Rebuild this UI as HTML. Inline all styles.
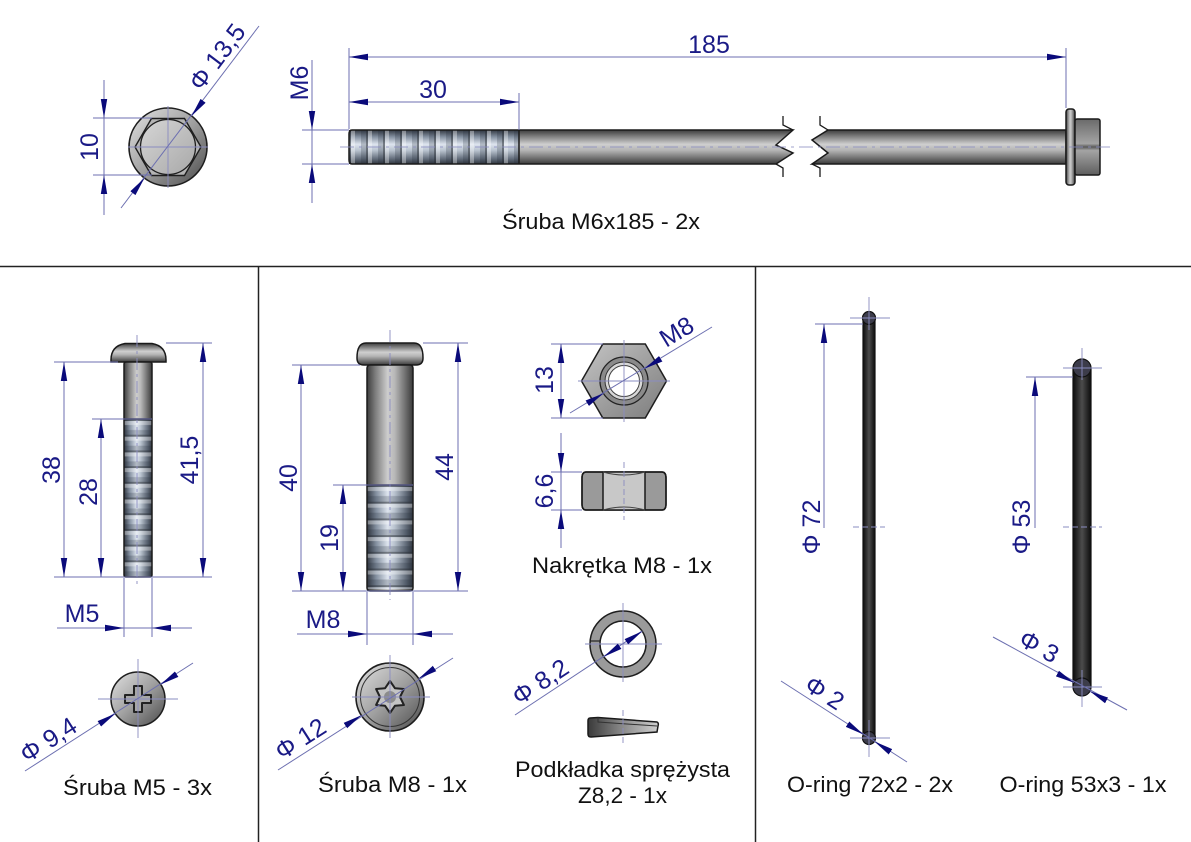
<!DOCTYPE html>
<html><head><meta charset="utf-8"><style>html,body{margin:0;padding:0;background:#fff}svg{display:block}</style></head>
<body>
<svg width="1191" height="842" viewBox="0 0 1191 842" xmlns="http://www.w3.org/2000/svg" font-family="'Liberation Sans', Arial, sans-serif">
<defs>
<marker id="ar" markerUnits="userSpaceOnUse" markerWidth="20" markerHeight="8" refX="19" refY="3.5" orient="auto"><path d="M0,0.3 L19,3.5 L0,6.7 Z" fill="#0a0a7a"/></marker>
<linearGradient id="gV" x1="0" y1="0" x2="0" y2="1"><stop offset="0" stop-color="#3c3c3c"/><stop offset=".18" stop-color="#7c7c7c"/><stop offset=".42" stop-color="#cfcfcf"/><stop offset=".6" stop-color="#b4b4b4"/><stop offset=".85" stop-color="#6a6a6a"/><stop offset="1" stop-color="#3a3a3a"/></linearGradient>
<linearGradient id="gH" x1="0" y1="0" x2="1" y2="0"><stop offset="0" stop-color="#3c3c3c"/><stop offset=".18" stop-color="#7c7c7c"/><stop offset=".45" stop-color="#cdcdcd"/><stop offset=".6" stop-color="#b8b8b8"/><stop offset=".85" stop-color="#6a6a6a"/><stop offset="1" stop-color="#3a3a3a"/></linearGradient>
<linearGradient id="gThV" x1="0" y1="0" x2="0" y2="1"><stop offset="0" stop-color="#323842"/><stop offset=".2" stop-color="#8490a0"/><stop offset=".42" stop-color="#dde4ee"/><stop offset=".6" stop-color="#b9c3cf"/><stop offset=".85" stop-color="#626c7a"/><stop offset="1" stop-color="#30363f"/></linearGradient>
<linearGradient id="gThH" x1="0" y1="0" x2="1" y2="0"><stop offset="0" stop-color="#323842"/><stop offset=".2" stop-color="#8490a0"/><stop offset=".45" stop-color="#dde4ee"/><stop offset=".6" stop-color="#b9c3cf"/><stop offset=".85" stop-color="#626c7a"/><stop offset="1" stop-color="#30363f"/></linearGradient>
<linearGradient id="gC" x1="0" y1="0" x2="1" y2="1"><stop offset="0" stop-color="#e2e2e2"/><stop offset=".5" stop-color="#a0a0a0"/><stop offset="1" stop-color="#4a4a4a"/></linearGradient>
<linearGradient id="gC2" x1="0" y1="0" x2="1" y2="1"><stop offset="0" stop-color="#d6d6d6"/><stop offset="1" stop-color="#a8a8a8"/></linearGradient>
<linearGradient id="gNut" x1="0" y1="0" x2="1" y2="1"><stop offset="0" stop-color="#c4c4c4"/><stop offset="1" stop-color="#7c7c7c"/></linearGradient>
<linearGradient id="gHex" x1="0" y1="0" x2="0" y2="1"><stop offset="0" stop-color="#6a6a6a"/><stop offset=".44" stop-color="#a4a4a4"/><stop offset=".5" stop-color="#5a5a5a"/><stop offset=".56" stop-color="#a4a4a4"/><stop offset="1" stop-color="#5e5e5e"/></linearGradient>
<linearGradient id="gRing" x1="0" y1="0" x2="1" y2="0"><stop offset="0" stop-color="#0c0c0c"/><stop offset=".5" stop-color="#4c4c4c"/><stop offset="1" stop-color="#0c0c0c"/></linearGradient>
<linearGradient id="gWs" x1="0" y1="0" x2="1" y2="0"><stop offset="0" stop-color="#3a3a3a"/><stop offset=".5" stop-color="#8c8c8c"/><stop offset="1" stop-color="#d0d0d0"/></linearGradient>
<pattern id="pTh1" patternUnits="userSpaceOnUse" x="349" y="0" width="17" height="200"><rect x="0" width="2" height="200" fill="#20262e" opacity=".55"/><rect x="2" width="4" height="200" fill="#fff" opacity=".35"/><rect x="12" width="5" height="200" fill="#1c2430" opacity=".22"/></pattern>
<pattern id="pTh2" patternUnits="userSpaceOnUse" x="0" y="419" width="300" height="15.7"><rect y="0" width="300" height="2" fill="#20262e" opacity=".55"/><rect y="2" width="300" height="4" fill="#fff" opacity=".35"/><rect y="11" width="300" height="4.7" fill="#1c2430" opacity=".22"/></pattern>
<pattern id="pTh3" patternUnits="userSpaceOnUse" x="0" y="485" width="500" height="16.7"><rect y="0" width="500" height="2" fill="#20262e" opacity=".55"/><rect y="2" width="500" height="4" fill="#fff" opacity=".35"/><rect y="11" width="500" height="5.7" fill="#1c2430" opacity=".22"/></pattern>
<style>
.d{stroke:#6c6fb0;stroke-width:1;fill:none}
.c{stroke:#8a8cc0;stroke-width:.9;fill:none}
.t{fill:#1a1a86;font-size:25px}
.l{fill:#111;font-size:22px}
.o{stroke:#1a1a1a;stroke-width:1.5}
</style>
</defs>
<rect width="1191" height="842" fill="#fff"/>
<path d="M0,266.5 H1191 M258.5,266 V842 M755.5,266 V842" stroke="#222" stroke-width="1.5" fill="none"/>

<!-- TOP LEFT head view -->
<circle cx="168" cy="147" r="39" fill="url(#gC)" stroke="#1e1e1e" stroke-width="1.6"/>
<polygon points="201,147 184.5,118.5 151.5,118.5 135,147 151.5,175.5 184.5,175.5" fill="#b4b4b4" stroke="#1e1e1e" stroke-width="1.4"/>
<circle cx="168" cy="147" r="27.5" fill="url(#gC2)" stroke="#1e1e1e" stroke-width="1.3"/>
<path class="c" d="M128,147 H208 M168,106 V188"/>
<path class="d" d="M93,118 H152 M93,175 H152 M104,80 V215"/>
<path class="d" d="M104,100 L104,118" marker-end="url(#ar)"/>
<path class="d" d="M104,193 L104,175" marker-end="url(#ar)"/>
<text class="t" transform="translate(98,147) rotate(-90)" text-anchor="middle">10</text>
<path class="d" d="M121,208 L259,26"/>
<path class="d" d="M202.5,101.6 L191.6,115.9" marker-end="url(#ar)"/>
<path class="d" d="M133.5,192.4 L144.4,178.1" marker-end="url(#ar)"/>
<text class="t" transform="translate(224,62) rotate(-53)" text-anchor="middle">Φ 13,5</text>

<!-- TOP bolt -->
<path d="M352,130 L793,130 L776,145 L793,153 L776,164 L352,164 Q349,164 349,160 L349,134 Q349,130 352,130 Z" fill="url(#gV)"/>
<rect x="349" y="130" width="170" height="34" fill="url(#gThV)"/>
<rect x="349" y="130" width="170" height="34" fill="url(#pTh1)"/>
<path d="M352,130 L793,130 L776,145 L793,153 L776,164 L352,164 Q349,164 349,160 L349,134 Q349,130 352,130 Z M519,130 V164" fill="none" class="o"/>
<path d="M828,130 L1066,130 L1066,164 L812,164 L828,153 L812,140 Z" fill="url(#gV)" class="o"/>
<path d="M783,116 V125 L793,130 M776,164 L783,168 V177 M820,116 V125 L828,130 M812,164 L820,168 V177" stroke="#1a1a1a" fill="none" stroke-width="1.3"/>
<rect x="1066" y="109" width="9" height="76" rx="3" fill="url(#gH)" class="o"/>
<rect x="1075" y="119" width="25" height="56" rx="2" fill="url(#gHex)" class="o"/>
<path class="c" d="M340,147 H1112" stroke-dasharray="14 5 3 5" opacity=".8"/>
<path class="d" d="M349,48 V129 M1066,48 V108 M519,93 V130 M349,57 H1066 M349,102 H519"/>
<path class="d" d="M367,57 L349,57" marker-end="url(#ar)"/>
<path class="d" d="M1048,57 L1066,57" marker-end="url(#ar)"/>
<path class="d" d="M367,102 L349,102" marker-end="url(#ar)"/>
<path class="d" d="M501,102 L519,102" marker-end="url(#ar)"/>
<text class="t" x="709" y="53" text-anchor="middle">185</text>
<text class="t" x="433" y="98" text-anchor="middle">30</text>
<path class="d" d="M302,130 H349 M302,164 H349 M312,60 V203"/>
<path class="d" d="M312,112 L312,130" marker-end="url(#ar)"/>
<path class="d" d="M312,182 L312,164" marker-end="url(#ar)"/>
<text class="t" transform="translate(308,83) rotate(-90)" text-anchor="middle">M6</text>
<text class="l" x="601" y="229" text-anchor="middle" textLength="198" lengthAdjust="spacingAndGlyphs">Śruba M6x185 - 2x</text>

<!-- M5 bolt -->
<path d="M111,360 Q111,346 125,343.5 L152,343.5 Q166,346 166,360 L166,362 L111,362 Z" fill="url(#gV)" class="o"/>
<rect x="124" y="362" width="28" height="215" rx="2" fill="url(#gH)"/>
<rect x="124" y="419" width="28" height="157" fill="url(#gThH)"/>
<rect x="124" y="419" width="28" height="157" fill="url(#pTh2)"/>
<rect x="124" y="362" width="28" height="215" rx="2" fill="none" class="o"/>
<path d="M124,419 H152" class="o"/>
<path class="c" d="M137,335 V585" stroke-dasharray="12 4 3 4"/>
<path class="d" d="M54,362 H118 M92,419 H152 M166,343 H212 M54,577 H212 M64,362 V577 M101,419 V577 M203,343 V577"/>
<path class="d" d="M64,380 L64,362" marker-end="url(#ar)"/>
<path class="d" d="M64,559 L64,577" marker-end="url(#ar)"/>
<path class="d" d="M101,437 L101,419" marker-end="url(#ar)"/>
<path class="d" d="M101,559 L101,577" marker-end="url(#ar)"/>
<path class="d" d="M203,361 L203,343" marker-end="url(#ar)"/>
<path class="d" d="M203,559 L203,577" marker-end="url(#ar)"/>
<text class="t" transform="translate(60,470) rotate(-90)" text-anchor="middle">38</text>
<text class="t" transform="translate(97,492) rotate(-90)" text-anchor="middle">28</text>
<text class="t" transform="translate(198,460) rotate(-90)" text-anchor="middle">41,5</text>
<path class="d" d="M124,578 V637 M152,578 V637 M57,628 H192"/>
<path class="d" d="M106,628 L124,628" marker-end="url(#ar)"/>
<path class="d" d="M170,628 L152,628" marker-end="url(#ar)"/>
<text class="t" x="82" y="622" text-anchor="middle">M5</text>
<!-- M5 head view -->
<circle cx="138" cy="699" r="27" fill="url(#gC)" stroke="#1e1e1e" stroke-width="1.5"/>
<path d="M134,686 h8 v9 h9 v8 h-9 v9 h-8 v-9 h-9 v-8 h9 z" fill="#a6a6a6" stroke="#222" stroke-width="2" stroke-linejoin="round"/>
<path class="c" d="M98,699 H178 M138,659 V738"/>
<path class="d" d="M25,771 L193,663"/>
<path class="d" d="M175.8,674.7 L160.7,684.4" marker-end="url(#ar)"/>
<path class="d" d="M100.2,723.3 L115.3,713.6" marker-end="url(#ar)"/>
<text class="t" transform="translate(53,747) rotate(-32.7)" text-anchor="middle">Φ 9,4</text>
<text class="l" x="137.5" y="795" text-anchor="middle" textLength="149" lengthAdjust="spacingAndGlyphs">Śruba M5 - 3x</text>

<!-- M8 bolt -->
<path d="M357,358 Q357,343 366,343 L414,343 Q423,343 423,358 Q423,365 416,365 L364,365 Q357,365 357,358 Z" fill="url(#gV)" class="o"/>
<rect x="367" y="365" width="46" height="226" rx="3" fill="url(#gH)"/>
<rect x="367" y="485" width="46" height="104" fill="url(#gThH)"/>
<rect x="367" y="485" width="46" height="104" fill="url(#pTh3)"/>
<rect x="367" y="365" width="46" height="226" rx="3" fill="none" class="o"/>
<path d="M367,485 H413" class="o"/>
<path class="c" d="M390,330 V600" stroke-dasharray="12 4 3 4"/>
<path class="d" d="M292,365 H360 M333,485 H413 M423,343 H468 M292,591 H468 M301,365 V591 M343,485 V591 M458,343 V591"/>
<path class="d" d="M301,383 L301,365" marker-end="url(#ar)"/>
<path class="d" d="M301,573 L301,591" marker-end="url(#ar)"/>
<path class="d" d="M343,503 L343,485" marker-end="url(#ar)"/>
<path class="d" d="M343,573 L343,591" marker-end="url(#ar)"/>
<path class="d" d="M458,361 L458,343" marker-end="url(#ar)"/>
<path class="d" d="M458,573 L458,591" marker-end="url(#ar)"/>
<text class="t" transform="translate(297,478) rotate(-90)" text-anchor="middle">40</text>
<text class="t" transform="translate(338,538) rotate(-90)" text-anchor="middle">19</text>
<text class="t" transform="translate(453,467) rotate(-90)" text-anchor="middle">44</text>
<path class="d" d="M367,592 V645 M413,592 V645 M297,634 H453"/>
<path class="d" d="M349,634 L367,634" marker-end="url(#ar)"/>
<path class="d" d="M431,634 L413,634" marker-end="url(#ar)"/>
<text class="t" x="323" y="628" text-anchor="middle">M8</text>
<!-- M8 head view -->
<circle cx="390" cy="697" r="34" fill="url(#gC)" stroke="#1e1e1e" stroke-width="1.6"/>
<circle cx="390" cy="697" r="29.5" fill="none" stroke="#333" stroke-width="1"/>
<polygon points="390,681 395,688.3 403.9,689 400,697 403.9,705 395,705.7 390,713 385,705.7 376.1,705 380,697 376.1,689 385,688.3" fill="#c4c4c4" stroke="#222" stroke-width="2" stroke-linejoin="round"/>
<circle cx="390" cy="697" r="6" fill="#8c8c8c"/>
<path class="c" d="M352,697 H430 M390,655 V738"/>
<path class="d" d="M278,770 L453,658"/>
<path class="d" d="M433.8,669 L418.6,678.7" marker-end="url(#ar)"/>
<path class="d" d="M346.2,725 L361.4,715.3" marker-end="url(#ar)"/>
<text class="t" transform="translate(305,746) rotate(-32.6)" text-anchor="middle">Φ 12</text>
<text class="l" x="392.5" y="792" text-anchor="middle" textLength="149" lengthAdjust="spacingAndGlyphs">Śruba M8 - 1x</text>

<!-- Nut top view -->
<polygon points="666.5,381 645.3,344 602.8,344 581.5,381 602.8,418 645.3,418" fill="url(#gNut)" stroke="#1e1e1e" stroke-width="1.5"/>
<circle cx="624" cy="381" r="24" fill="#8a8a8a" stroke="#222" stroke-width="1.3"/>
<circle cx="624" cy="381" r="19" fill="#d8d8d8" stroke="#333" stroke-width="1"/>
<circle cx="624" cy="381" r="15.5" fill="#fff" stroke="#444" stroke-width="1"/>
<path class="c" d="M624,340 V422 M578,381 H670"/>
<path class="d" d="M551,344 H603 M551,418 H603 M561,344 V418"/>
<path class="d" d="M561,362 L561,344" marker-end="url(#ar)"/>
<path class="d" d="M561,400 L561,418" marker-end="url(#ar)"/>
<text class="t" transform="translate(553,380) rotate(-90)" text-anchor="middle">13</text>
<path class="d" d="M570,413 L712,327"/>
<path class="d" d="M588.1,402.7 L603.5,393.4" marker-end="url(#ar)"/>
<path class="d" d="M659.9,359.3 L644.5,368.6" marker-end="url(#ar)"/>
<text class="t" transform="translate(681,339) rotate(-31.2)" text-anchor="middle">M8</text>
<!-- Nut side view -->
<path d="M586,472 H662 Q666,472 666,478 V504 Q666,510 662,510 H586 Q582,510 582,504 V478 Q582,472 586,472 Z" fill="#9a9a9a" class="o"/>
<rect x="603" y="472" width="42" height="38" fill="#c8c8c8"/>
<path d="M586,472 H662 Q666,472 666,478 V504 Q666,510 662,510 H586 Q582,510 582,504 V478 Q582,472 586,472 Z M603,472 V510 M645,472 V510" fill="none" class="o"/>
<path d="M603,472 Q624,478 645,472 M603,510 Q624,504 645,510" fill="none" stroke="#444" stroke-width="1"/>
<path class="c" d="M624,462 V520" stroke-dasharray="6 3"/>
<path class="d" d="M551,472 H582 M551,510 H582 M561,433 V548"/>
<path class="d" d="M561,454 L561,472" marker-end="url(#ar)"/>
<path class="d" d="M561,528 L561,510" marker-end="url(#ar)"/>
<text class="t" transform="translate(553,491) rotate(-90)" text-anchor="middle">6,6</text>
<text class="l" x="622" y="573" text-anchor="middle" textLength="180" lengthAdjust="spacingAndGlyphs">Nakrętka M8 - 1x</text>

<!-- Washer -->
<circle cx="623" cy="644" r="28" fill="none" stroke="#9a9a9a" stroke-width="10"/>
<circle cx="623" cy="644" r="33" fill="none" stroke="#1e1e1e" stroke-width="1.5"/>
<circle cx="623" cy="644" r="23" fill="#fff" stroke="#1e1e1e" stroke-width="1.5"/>
<path d="M590,641 H600" stroke="#222" stroke-width="1.2"/>
<path class="c" d="M585,644 H662 M623,603 V682"/>
<path class="d" d="M515,715 L642,631"/>
<path class="d" d="M627.2,641.2 L642.2,631.3" marker-end="url(#ar)"/>
<path class="d" d="M618.8,646.8 L603.8,656.7" marker-end="url(#ar)"/>
<text class="t" transform="translate(545,689) rotate(-33.6)" text-anchor="middle">Φ 8,2</text>
<path d="M590,718 L598,717.5 L657,722 Q659,723 658,726 L657,732 L591,737 Q588,737 588,734 L588,721 Q588,718 590,718 Z" fill="url(#gWs)" class="o"/>
<path d="M598,717.5 V722 L657,726" fill="none" stroke="#333" stroke-width="1"/>
<path class="c" d="M623,710 V745" stroke-dasharray="6 3"/>
<text class="l" x="622.5" y="777" text-anchor="middle" textLength="215" lengthAdjust="spacingAndGlyphs">Podkładka sprężysta</text>
<text class="l" x="622.5" y="803" text-anchor="middle" textLength="89" lengthAdjust="spacingAndGlyphs">Z8,2 - 1x</text>

<!-- O-ring 72x2 -->
<rect x="863" y="318" width="12" height="420" fill="url(#gRing)" stroke="#111" stroke-width="1.2"/>
<circle cx="869" cy="318" r="6.5" fill="#3c3c4a" stroke="#111" stroke-width="1.2"/>
<circle cx="869" cy="738" r="6.5" fill="#3c3c4a" stroke="#111" stroke-width="1.2"/>
<path class="c" d="M850,318 H890 M869,297 V330 M850,738 H890 M869,720 V757"/>
<path class="c" d="M853,527 H885" stroke-dasharray="6 3"/>
<path class="d" d="M815,324 H863 M824,324 V528"/>
<path class="d" d="M824,342 L824,324" marker-end="url(#ar)"/>
<text class="t" transform="translate(820,527) rotate(-90)" text-anchor="middle">Φ 72</text>
<path class="d" d="M781,681 L907,762"/>
<path class="d" d="M848.4,724.8 L863.5,734.5" marker-end="url(#ar)"/>
<path class="d" d="M889.6,751.2 L874.5,741.5" marker-end="url(#ar)"/>
<text class="t" transform="translate(820,700) rotate(32.7)" text-anchor="middle">Φ 2</text>
<text class="l" x="870" y="792" text-anchor="middle" textLength="166" lengthAdjust="spacingAndGlyphs">O-ring 72x2 - 2x</text>

<!-- O-ring 53x3 -->
<rect x="1073" y="368" width="18" height="319" fill="url(#gRing)" stroke="#111" stroke-width="1.2"/>
<circle cx="1082" cy="368" r="9" fill="#3c3c4a" stroke="#111" stroke-width="1.2"/>
<circle cx="1082" cy="687" r="9" fill="#3c3c4a" stroke="#111" stroke-width="1.2"/>
<path class="c" d="M1063,368 H1102 M1082,348 V380 M1063,687 H1102 M1082,670 V707"/>
<path class="c" d="M1063,527 H1102" stroke-dasharray="6 3"/>
<path class="d" d="M1026,377 H1073 M1035,377 V528"/>
<path class="d" d="M1035,395 L1035,377" marker-end="url(#ar)"/>
<text class="t" transform="translate(1030,527) rotate(-90)" text-anchor="middle">Φ 53</text>
<path class="d" d="M993,637 L1127,710"/>
<path class="d" d="M1058.3,674.1 L1074.1,682.7" marker-end="url(#ar)"/>
<path class="d" d="M1105.7,699.9 L1089.9,691.3" marker-end="url(#ar)"/>
<text class="t" transform="translate(1035,654) rotate(28.6)" text-anchor="middle">Φ 3</text>
<text class="l" x="1083" y="792" text-anchor="middle" textLength="167" lengthAdjust="spacingAndGlyphs">O-ring 53x3 - 1x</text>
</svg>
</body></html>
